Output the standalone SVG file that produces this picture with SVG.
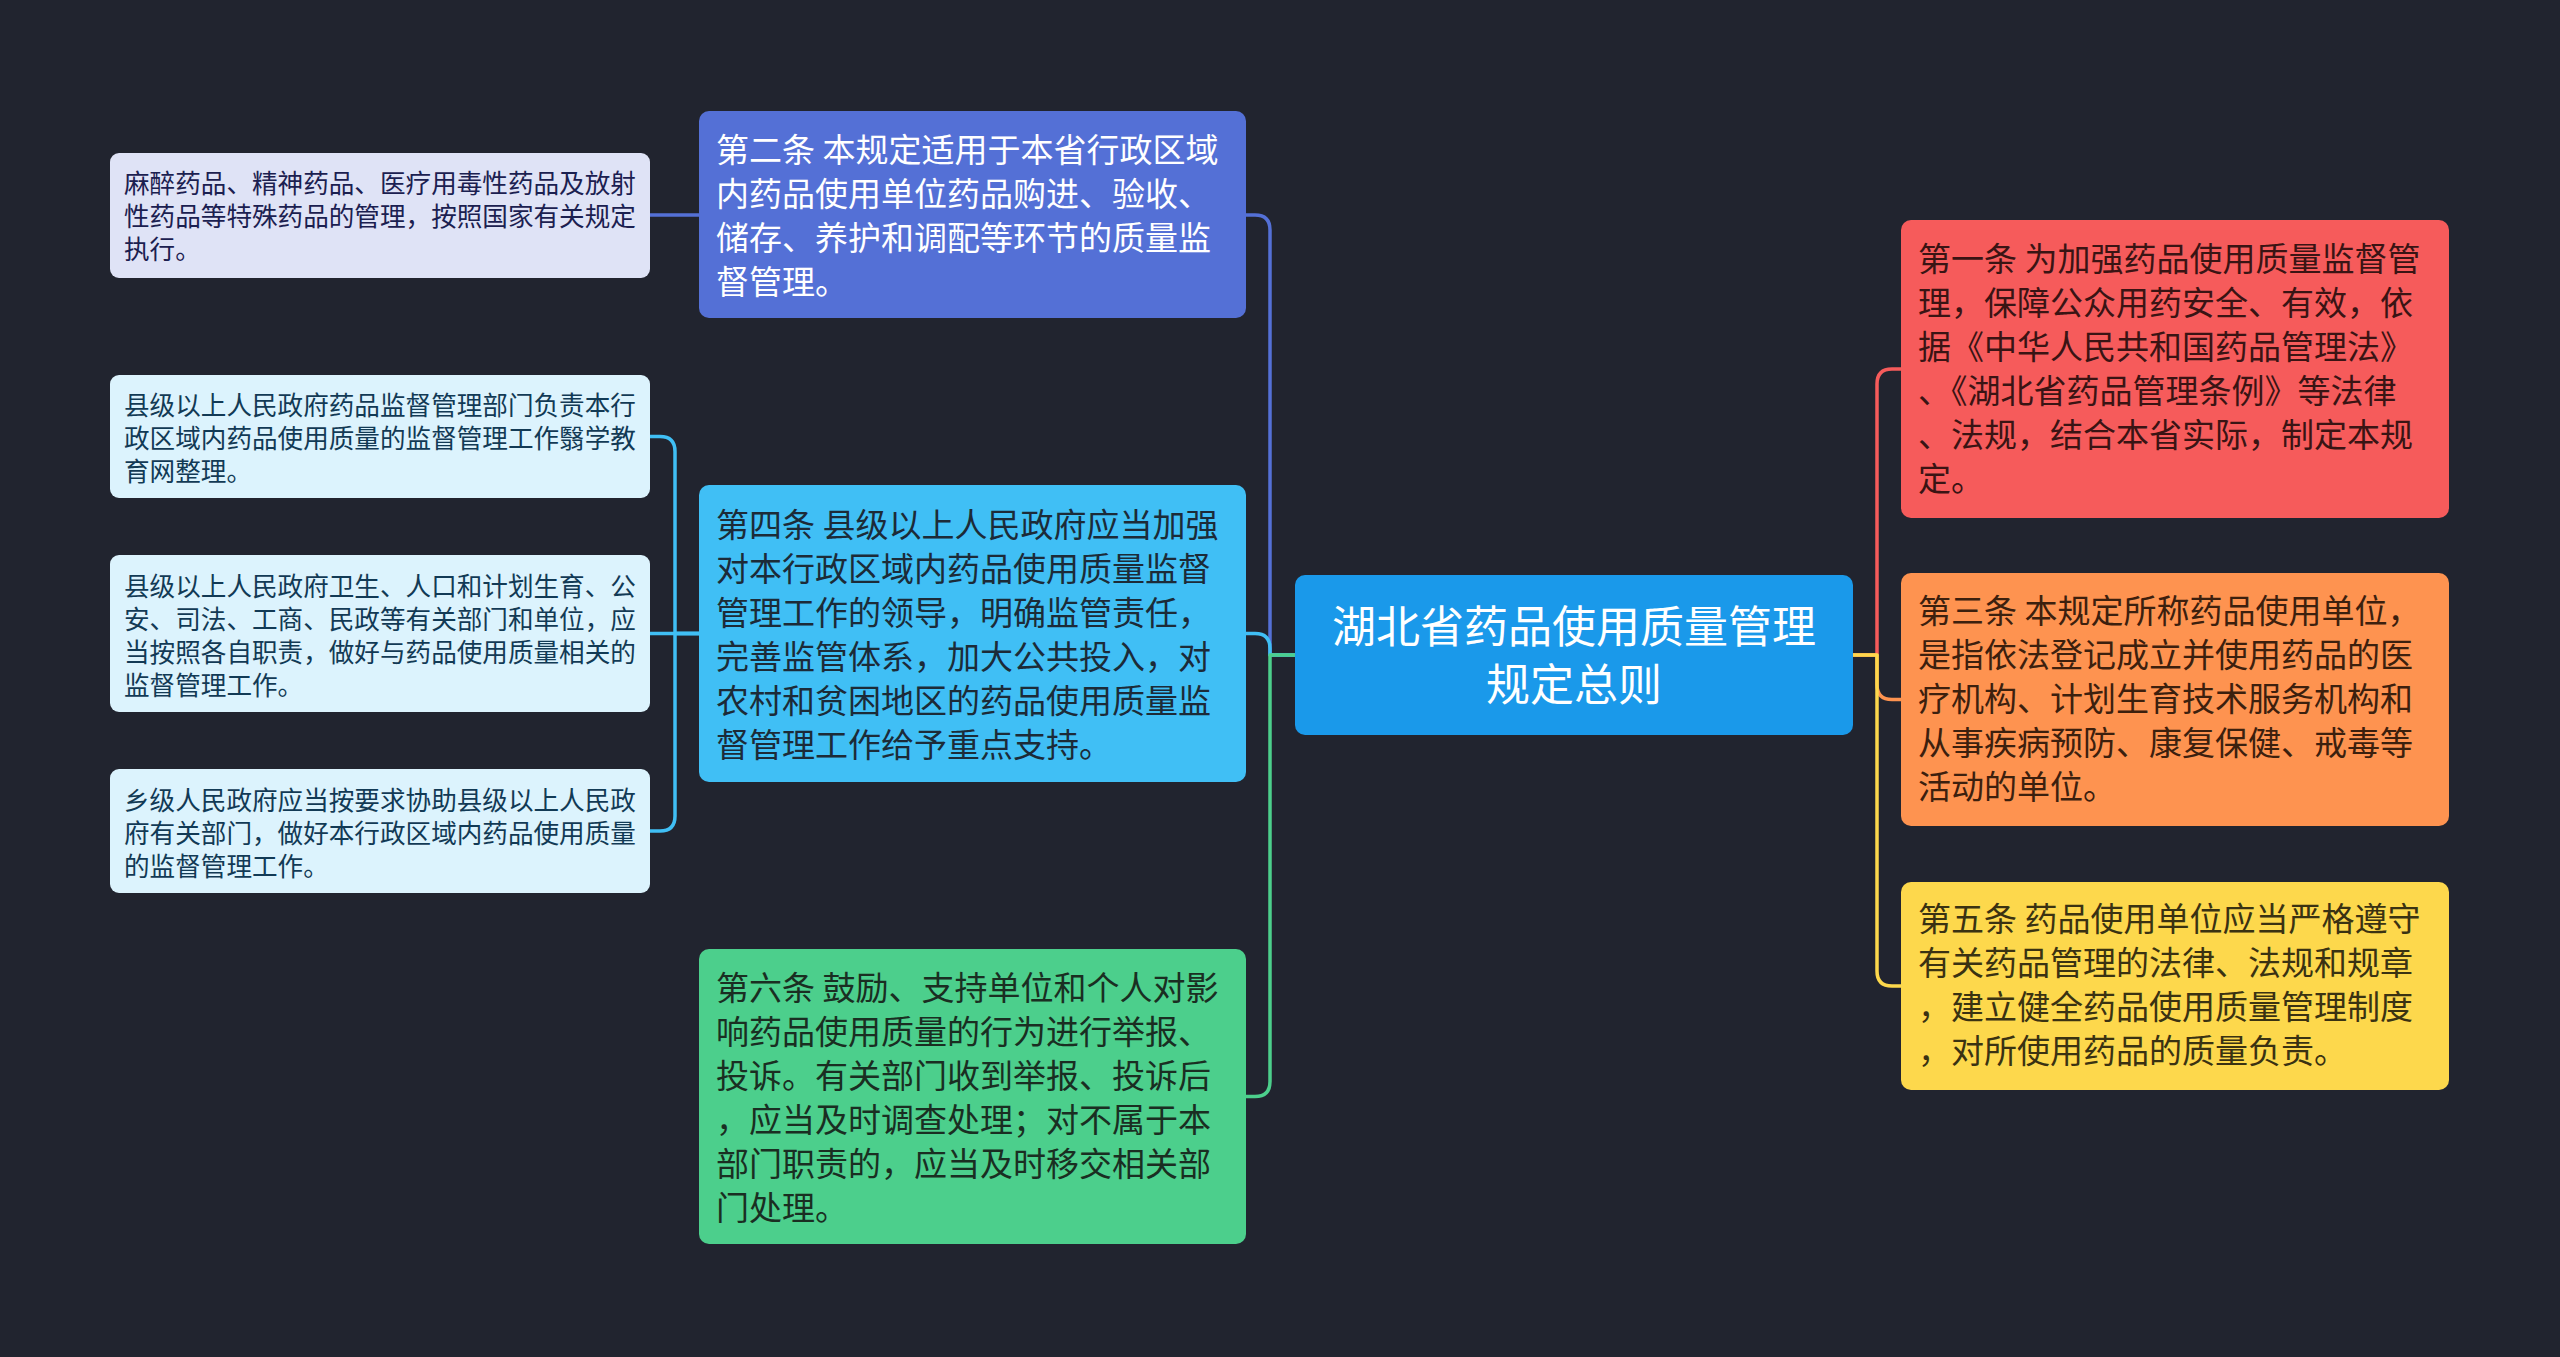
<svg xmlns="http://www.w3.org/2000/svg" width="2560" height="1357" viewBox="0 0 2560 1357">
<defs>
<style>
text{font-family:"Noto Sans CJK SC","Noto Sans",sans-serif;}
.conn{fill:none;stroke-width:3.5;stroke-linejoin:round;stroke-linecap:round;}
.sm{font-size:25.6px;}
.md{font-size:33px;}
.ct{font-size:44px;text-anchor:middle;fill:#ffffff;}
</style>
</defs>
<rect x="0" y="0" width="2560" height="1357" fill="#21242f"/>
<g id="connectors">
<path class="conn" stroke="#5470d6" d="M1295 655 H1270 V230 Q1270 215 1255 215 H1246"/>
<path class="conn" stroke="#40bff5" d="M1295 655 H1270 V648.5 Q1270 633.5 1255 633.5 H1246"/>
<path class="conn" stroke="#4ccf8c" d="M1295 655 H1270 V1081.5 Q1270 1096.5 1255 1096.5 H1246"/>
<path class="conn" stroke="#f65b5b" d="M1853 655 H1877 V384 Q1877 369 1892 369 H1901"/>
<path class="conn" stroke="#fe9350" d="M1853 655 H1877 V684.5 Q1877 699.5 1892 699.5 H1901"/>
<path class="conn" stroke="#fdd84c" d="M1853 655 H1877 V971 Q1877 986 1892 986 H1901"/>
<path class="conn" stroke="#5470d6" d="M699 215 H650"/>
<path class="conn" stroke="#40bff5" d="M699 633.5 H675 V451.5 Q675 436.5 660 436.5 H650"/>
<path class="conn" stroke="#40bff5" d="M699 633.5 H650"/>
<path class="conn" stroke="#40bff5" d="M699 633.5 H675 V816 Q675 831 660 831 H650"/>
</g>
<g id="n-root">
<rect x="1295" y="575" width="558" height="160" rx="10" fill="#1a99ea"/>
<text class="ct"><tspan x="1574" y="643">湖北省药品使用质量管理</tspan><tspan x="1574" y="701">规定总则</tspan></text>
</g>
<g id="n-art2">
<rect x="699" y="111" width="547" height="207" rx="10" fill="#5470d6"/>
<text class="md" fill="#ffffff"><tspan x="716" y="162">第二条 本规定适用于本省行政区域</tspan><tspan x="716" y="206">内药品使用单位药品购进、验收、</tspan><tspan x="716" y="250">储存、养护和调配等环节的质量监</tspan><tspan x="716" y="294">督管理。</tspan></text>
</g>
<g id="n-art2-1">
<rect x="110" y="153" width="540" height="125" rx="9" fill="#dfe3f6"/>
<text class="sm" fill="#1b2050"><tspan x="124" y="193">麻醉药品、精神药品、医疗用毒性药品及放射</tspan><tspan x="124" y="226">性药品等特殊药品的管理，按照国家有关规定</tspan><tspan x="124" y="259">执行。</tspan></text>
</g>
<g id="n-art4">
<rect x="699" y="485" width="547" height="297" rx="10" fill="#40bff5"/>
<text class="md" fill="#1c2b38"><tspan x="716" y="537">第四条 县级以上人民政府应当加强</tspan><tspan x="716" y="581">对本行政区域内药品使用质量监督</tspan><tspan x="716" y="625">管理工作的领导，明确监管责任，</tspan><tspan x="716" y="669">完善监管体系，加大公共投入，对</tspan><tspan x="716" y="713">农村和贫困地区的药品使用质量监</tspan><tspan x="716" y="757">督管理工作给予重点支持。</tspan></text>
</g>
<g id="n-art4-1">
<rect x="110" y="375" width="540" height="123" rx="9" fill="#dcf3fd"/>
<text class="sm" fill="#123a55"><tspan x="124" y="415">县级以上人民政府药品监督管理部门负责本行</tspan><tspan x="124" y="448">政区域内药品使用质量的监督管理工作翳学教</tspan><tspan x="124" y="481">育网整理。</tspan></text>
</g>
<g id="n-art4-2">
<rect x="110" y="555" width="540" height="157" rx="9" fill="#dcf3fd"/>
<text class="sm" fill="#123a55"><tspan x="124" y="596">县级以上人民政府卫生、人口和计划生育、公</tspan><tspan x="124" y="629">安、司法、工商、民政等有关部门和单位，应</tspan><tspan x="124" y="662">当按照各自职责，做好与药品使用质量相关的</tspan><tspan x="124" y="695">监督管理工作。</tspan></text>
</g>
<g id="n-art4-3">
<rect x="110" y="769" width="540" height="124" rx="9" fill="#dcf3fd"/>
<text class="sm" fill="#123a55"><tspan x="124" y="810">乡级人民政府应当按要求协助县级以上人民政</tspan><tspan x="124" y="843">府有关部门，做好本行政区域内药品使用质量</tspan><tspan x="124" y="876">的监督管理工作。</tspan></text>
</g>
<g id="n-art6">
<rect x="699" y="949" width="547" height="295" rx="10" fill="#4ccf8c"/>
<text class="md" fill="#1a2e22"><tspan x="716" y="1000">第六条 鼓励、支持单位和个人对影</tspan><tspan x="716" y="1044">响药品使用质量的行为进行举报、</tspan><tspan x="716" y="1088">投诉。有关部门收到举报、投诉后</tspan><tspan x="716" y="1132">，应当及时调查处理；对不属于本</tspan><tspan x="716" y="1176">部门职责的，应当及时移交相关部</tspan><tspan x="716" y="1220">门处理。</tspan></text>
</g>
<g id="n-art1">
<rect x="1901" y="220" width="548" height="298" rx="10" fill="#f65b5b"/>
<text class="md" fill="#3a1414"><tspan x="1918" y="271">第一条 为加强药品使用质量监督管</tspan><tspan x="1918" y="315">理，保障公众用药安全、有效，依</tspan><tspan x="1918" y="359">据《中华人民共和国药品管理法》</tspan><tspan x="1918" y="403">、《湖北省药品管理条例》等法律</tspan><tspan x="1918" y="447">、法规，结合本省实际，制定本规</tspan><tspan x="1918" y="491">定。</tspan></text>
</g>
<g id="n-art3">
<rect x="1901" y="573" width="548" height="253" rx="10" fill="#fe9350"/>
<text class="md" fill="#3c200e"><tspan x="1918" y="623">第三条 本规定所称药品使用单位，</tspan><tspan x="1918" y="667">是指依法登记成立并使用药品的医</tspan><tspan x="1918" y="711">疗机构、计划生育技术服务机构和</tspan><tspan x="1918" y="755">从事疾病预防、康复保健、戒毒等</tspan><tspan x="1918" y="799">活动的单位。</tspan></text>
</g>
<g id="n-art5">
<rect x="1901" y="882" width="548" height="208" rx="10" fill="#fdd84c"/>
<text class="md" fill="#3a3212"><tspan x="1918" y="931">第五条 药品使用单位应当严格遵守</tspan><tspan x="1918" y="975">有关药品管理的法律、法规和规章</tspan><tspan x="1918" y="1019">，建立健全药品使用质量管理制度</tspan><tspan x="1918" y="1063">，对所使用药品的质量负责。</tspan></text>
</g>
</svg>
